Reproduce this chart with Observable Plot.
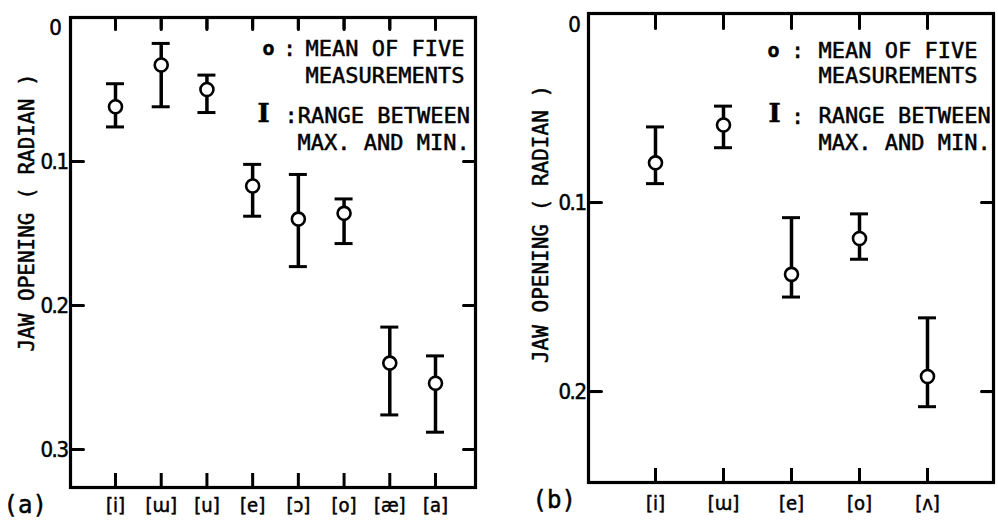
<!DOCTYPE html>
<html><head><meta charset="utf-8">
<script src="https://cdn.jsdelivr.net/npm/d3@7"></script>
<script src="https://cdn.jsdelivr.net/npm/@observablehq/plot@0.6"></script>
<style>
body{margin:0;background:#fff;}
#wrap{position:relative;width:998px;height:531px;overflow:hidden;background:#fff;}
#a,#b{position:absolute;top:0;width:499px;height:531px;}
#a{left:0}#b{left:499px}
#a svg,#b svg{position:absolute;left:0;top:0;}
.ytl text{letter-spacing:-1.5px}
</style></head><body><div id="wrap"><div id="a"></div><div id="b"></div></div>
<script>
// ---- data ----
const vowelsA = ["[i]","[ɯ]","[u]","[e]","[ɔ]","[o]","[æ]","[a]"];
const meanA = [0.062,0.033,0.050,0.117,0.140,0.136,0.240,0.254];
const lowA  = [0.046,0.018,0.040,0.102,0.109,0.126,0.215,0.235];
const highA = [0.076,0.062,0.066,0.138,0.173,0.157,0.276,0.288];
const vowelsB = ["[i]","[ɯ]","[e]","[o]","[ʌ]"];
const meanB = [0.079,0.059,0.138,0.119,0.192];
const lowB  = [0.060,0.049,0.108,0.106,0.161];
const highB = [0.090,0.071,0.150,0.130,0.208];
const yTicksA = [0.1,0.2,0.3];
const yTicksB = [0.1,0.2];
const yLabel = "JAW OPENING ( RADIAN )";
const legendMean = ["MEAN OF FIVE","MEASUREMENTS"];
const legendRange = ["RANGE BETWEEN","MAX. AND MIN."];
const panelTags = ["(a)","(b)"];

const MONO = "DejaVu Sans Mono";
const COND = "DejaVu Sans Condensed";
const INK = {fill: "black", stroke: "black", strokeWidth: 0.5};
const LINE_SHAPE = {draw(context, l) { context.moveTo(0, 0); context.lineTo(0, -l); }};

function rows(v, m, lo, hi){ return v.map((d,i)=>({v:d, mean:m[i], lo:lo[i], hi:hi[i]})); }

function txt(s, opts){
  return Plot.text([s], {text: d=>d, frameAnchor:"top-left", textAnchor:"start", lineAnchor:"middle", ...INK, ...opts});
}

function panel(o){
  const data = rows(o.vowels, o.mean, o.lo, o.hi);
  const g = o.leg;
  const W = 499, H = 531;
  const fh = H - o.mt - o.mb;
  const x0 = o.xRange[0];
  const first = () => o.vowels[0];
  const topLen = o.tTop / fh * o.yMax, botLen = o.tBot / fh * o.yMax;
  const xt = o.vowels.map(v => ({v, top0: 0, top1: topLen, bot0: o.yMax - botLen, bot1: o.yMax}));
  const base = {
    width: W, height: H,
    marginLeft: o.ml, marginRight: o.mr, marginTop: o.mt, marginBottom: o.mb,
    style: {fontFamily: MONO, fontSize: "22px", color: "black", background: "transparent", overflow: "visible"},
    x: {type: "point", domain: o.vowels, range: o.xRange, padding: 0, round: false, axis: null},
    y: {domain: [0, o.yMax], reverse: true, axis: null}
  };
  const layers = [];
  // layer: all text
  layers.push(Plot.plot({...base, marks: [
    Plot.text(o.yTicks, {y: d => d, text: d => String(d), frameAnchor: "left", textAnchor: "end", lineAnchor: "middle", dx: -3, fontFamily: COND, fontSize: 22, className: "ytl", ...INK}),
    Plot.text([0], {y: d => d, text: d => String(d), frameAnchor: "left", textAnchor: "middle", lineAnchor: "middle", dx: o.zeroDx, dy: o.zeroDy, fontFamily: COND, fontSize: 22, ...INK}),
    Plot.text(o.vowels, {x: d => d, text: d => d, frameAnchor: "bottom", textAnchor: "middle", lineAnchor: "middle", dy: o.xDy, fontFamily: COND, fontSize: 20, ...INK}),
    Plot.text([yLabel], {text: d => d, frameAnchor: "left", textAnchor: "middle", lineAnchor: "middle", rotate: -90, dx: o.ylDx, dy: o.ylDy, fontFamily: MONO, fontSize: 21, ...INK}),
    Plot.text([o.tag], {text: d => d, frameAnchor: "bottom-left", textAnchor: "start", lineAnchor: "middle", dx: o.tagDx, dy: o.tagDy, fontFamily: MONO, fontSize: 24, ...INK}),
    txt("o", {dx: g.o[0], dy: g.o[1], textAnchor: "middle", fontWeight: "bold", fontSize: 20}),
    txt(":", {dx: g.c1[0], dy: g.c1[1], textAnchor: "middle"}),
    txt(legendMean[0], {dx: g.m1[0], dy: g.m1[1]}),
    txt(legendMean[1], {dx: g.m2[0], dy: g.m2[1]}),
    txt("I", {dx: g.I[0], dy: g.I[1], textAnchor: "middle", fontFamily: "DejaVu Serif", fontWeight: "bold", fontSize: 26}),
    txt(g.rangeText, {dx: g.r1[0], dy: g.r1[1]}),
    ...(g.c2 ? [txt(":", {dx: g.c2[0], dy: g.c2[1], textAnchor: "middle"})] : []),
    txt(legendRange[1], {dx: g.r2[0], dy: g.r2[1]})
  ]}));
  // layer: frame, error bars, means
  layers.push(Plot.plot({...base, marks: [
    Plot.frame({stroke: "black", strokeWidth: 3.2}),
    Plot.ruleX(xt, {x: "v", y1: "bot0", y2: "bot1", stroke: "black", strokeWidth: 3}),
    Plot.ruleX(data, {x: "v", y1: "lo", y2: "hi", stroke: "black", strokeWidth: 3.5}),
    Plot.ruleY(data, {x1: "v", x2: "v", y: "lo", insetLeft: -9, insetRight: -9, stroke: "black", strokeWidth: 3}),
    Plot.ruleY(data, {x1: "v", x2: "v", y: "hi", insetLeft: -9, insetRight: -9, stroke: "black", strokeWidth: 3}),
    Plot.dot(data, {x: "v", y: "mean", r: 6.5, fill: "white", stroke: "black", strokeWidth: 2.6})
  ]}));
  // separate layers for the inward ticks on each side
  const tickMarks = [
    Plot.ruleX(xt, {x: "v", y1: "top0", y2: "top1", stroke: "black", strokeWidth: 3}),
    Plot.ruleY(o.yTicks, {y: d => d, x1: first, x2: first, insetLeft: o.ml - x0, insetRight: x0 - o.ml - 13, stroke: "black", strokeWidth: 3}),
    Plot.ruleY(o.yTicks, {y: d => d, x1: first, x2: first, insetLeft: (W - o.mr - 12) - x0, insetRight: x0 - (W - o.mr), stroke: "black", strokeWidth: 3})
  ];
  tickMarks.forEach(m => { try { layers.push(Plot.plot({...base, marks: [m]})); } catch (e) {} });
  // backup drawing of the same ticks with vector marks
  try {
    layers.push(Plot.plot({...base, marks: [
      Plot.vector(o.vowels, {x: d => d, frameAnchor: "top", length: o.tTop, rotate: 180, anchor: "start", shape: LINE_SHAPE, stroke: "black", strokeWidth: 3}),
      Plot.vector(o.yTicks, {y: d => d, frameAnchor: "left", length: 13, rotate: 90, anchor: "start", shape: LINE_SHAPE, stroke: "black", strokeWidth: 3}),
      Plot.vector(o.yTicks, {y: d => d, frameAnchor: "right", length: 12, rotate: -90, anchor: "start", shape: LINE_SHAPE, stroke: "black", strokeWidth: 3})
    ]}));
  } catch (e) {}
  return layers;
}

const A = panel({
  vowels: vowelsA, mean: meanA, lo: lowA, hi: highA, yTicks: yTicksA, yMax: 0.3264,
  ml: 70, mr: 24, mt: 17, mb: 44, xRange: [115, 435], tTop: 12, tBot: 14, xDy: 18,
  zeroDx: -15, zeroDy: 10, ylDx: -43, ylDy: -40, tag: panelTags[0], tagDx: -67, tagDy: 18,
  leg: {o: [198, 31], c1: [219, 31], m1: [235, 31], m2: [235, 58], I: [193, 96],
        rangeText: ":" + legendRange[0], r1: [214, 98], r2: [227, 125]}
});
const B = panel({
  vowels: vowelsB, mean: meanB, lo: lowB, hi: highB, yTicks: yTicksB, yMax: 0.2481,
  ml: 89, mr: 5, mt: 13, mb: 49, xRange: [156, 428], tTop: 15, tBot: 14, xDy: 21,
  zeroDx: -14, zeroDy: 11, ylDx: -47, ylDy: -24, tag: panelTags[1], tagDx: -56, tagDy: 18,
  leg: {o: [185, 37], c1: [209, 37], m1: [230, 37], m2: [230, 62], I: [186, 100],
        rangeText: legendRange[0], r1: [230, 102], c2: [209, 103], r2: [230, 129]}
});
A.forEach(s => document.getElementById("a").appendChild(s));
B.forEach(s => document.getElementById("b").appendChild(s));
</script>
</body></html>
